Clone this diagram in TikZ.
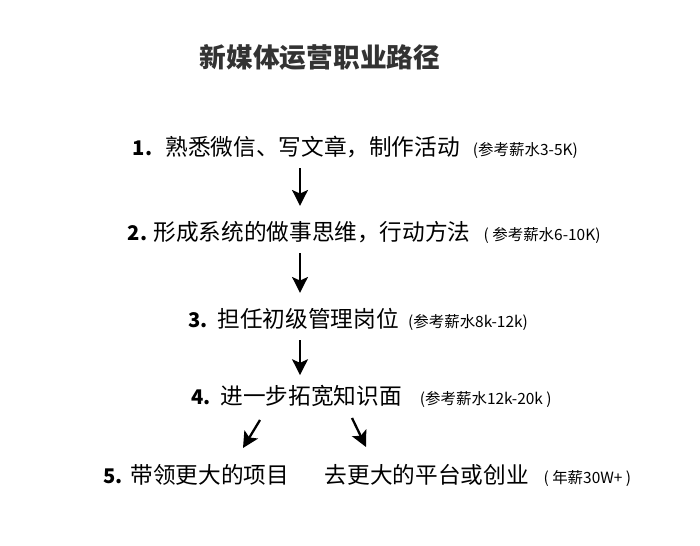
\documentclass[tikz,border=0pt]{standalone}
\usepackage{fontspec}
\setmainfont{Noto Sans CJK SC}
\usepackage{xcolor}
\usetikzlibrary{arrows.meta,positioning}

\definecolor{titlegray}{HTML}{333333}

\begin{document}
\begin{tikzpicture}[
      x=0.02cm, y=-0.02cm,
      >={Stealth[length=9pt,width=9pt,inset=2pt]},
      flow/.style={->, line width=1.3pt, black},
      title/.style={font=\fontsize{15.2}{18}\selectfont\bfseries, text=titlegray},
      num/.style={font=\fontsize{11.5}{14}\selectfont\bfseries, inner sep=0pt},
      main/.style={font=\fontsize{12.9}{15}\selectfont, anchor=base west, inner sep=0pt},
      pay/.style={font=\fontsize{8.8}{10}\selectfont, inner sep=0pt}
    ]
    \useasboundingbox (0,0) rectangle (700,546);

    \node[title] (ttl) at (320,57) {新媒体运营职业路径};

    % steps
    \node[main] (t1) at (165,156) {熟悉微信、写文章，制作活动};
    \node[num, base left=7pt of t1] (n1) {1.};
    \node[pay, base right=7pt of t1] (p1) {(参考薪水3-5K)};

    \node[main] (t2) at (153,241) {形成系统的做事思维，行动方法};
    \node[num, base left=3pt of t2] (n2) {2.};
    \node[pay, base right=7pt of t2] (p2) {( 参考薪水6-10K)};

    \node[main] (t3) at (217,328) {担任初级管理岗位};
    \node[num, base left=5pt of t3] (n3) {3.};
    \node[pay, base right=5pt of t3] (p3) {(参考薪水8k-12k)};

    \node[main] (t4) at (220,405) {进一步拓宽知识面};
    \node[num, base left=5pt of t4] (n4) {4.};
    \node[pay, base right=10pt of t4] (p4) {(参考薪水12k-20k )};

    \node[main] (t5) at (130,484) {带领更大的项目};
    \node[num, base left=4pt of t5] (n5) {5.};
    \node[main, base right=20pt of t5] (t6) {去更大的平台或创业};
    \node[pay, base right=8pt of t6] (p6) {( 年薪30W+ )};

    % arrows
    \coordinate (col) at (300,0);
    \draw[flow] ([yshift=-7pt]t1.base -| col) -- ([yshift=20pt]t2.base -| col);
    \draw[flow] ([yshift=-7pt]t2.base -| col) -- ([yshift=20pt]t3.base -| col);
    \draw[flow] ([yshift=-7pt]t3.base -| col) -- ([yshift=17pt]t4.base -| col);

    \coordinate (la) at (260,420);
    \coordinate (lb) at (243,448);
    \coordinate (ra) at (352,418);
    \coordinate (rb) at (366,447);
    \draw[flow] (la) -- (lb);
    \draw[flow] (ra) -- (rb);
  \end{tikzpicture}
\end{document}
